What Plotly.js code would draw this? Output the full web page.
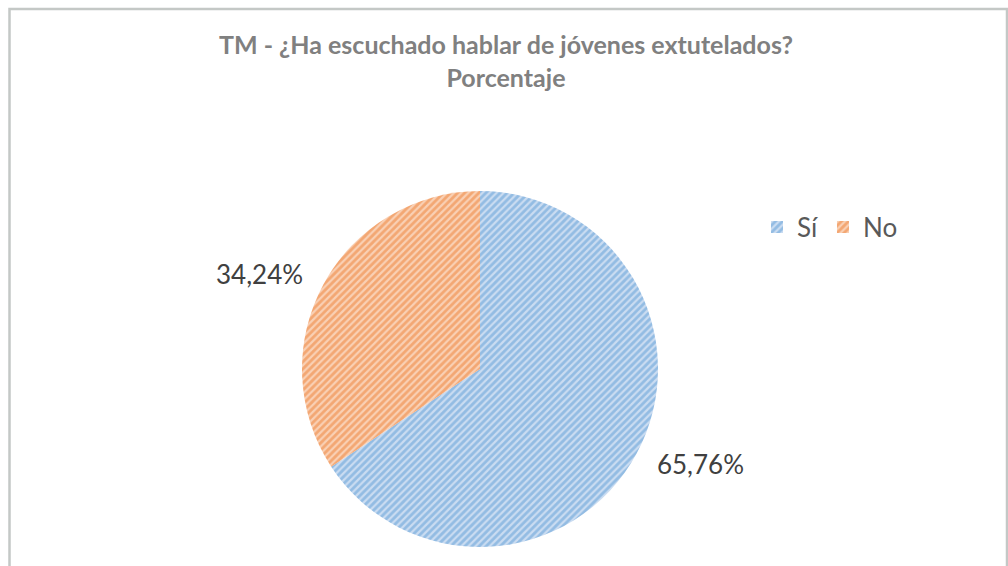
<!DOCTYPE html>
<html>
<head>
<meta charset="utf-8">
<script src="https://cdn.plot.ly/plotly-3.0.1.min.js"></script>
<style>html,body{margin:0;padding:0;background:#fff;}#chart{width:1008px;height:566px;}</style>
</head>
<body>
<div id="chart"></div>
<script>
const categories = ["Sí", "No"];
const values = [65.76, 34.24];
const colors = ["#5B9BD5", "#ED7D31"];
const lightColors = ["#cadcf1", "#f9d0b4"];
const titleText = "TM - ¿Ha escuchado hablar de jóvenes extutelados?<br>Porcentaje";

const W = 1008, H = 566;
const cx = 480, cy = 369, r = 178, rLabel = 192;

function dom(rad) {
  return {
    x: [(cx - rad) / W, (cx + rad) / W],
    y: [(H - cy - rad) / H, (H - cy + rad) / H]
  };
}

const piePattern = {
  shape: "/",
  fgcolor: colors,
  bgcolor: lightColors,
  size: 5,
  solidity: 0.55,
  fillmode: "overlay"
};

const trace = {
  type: "pie",
  labels: categories,
  values: values,
  sort: false,
  direction: "clockwise",
  rotation: 0,
  textinfo: "none",
  hoverinfo: "label+percent",
  marker: {
    colors: lightColors,
    line: {color: "rgba(0,0,0,0)", width: 0},
    pattern: piePattern
  },
  domain: dom(r)
};

// label carrier: same data, invisible, slightly larger radius so labels sit further out
const labelTrace = {
  type: "pie",
  labels: categories,
  values: values,
  sort: false,
  direction: "clockwise",
  rotation: 0,
  showlegend: false,
  textposition: "outside",
  texttemplate: "%{percent:.2%}",
  hoverinfo: "skip",
  outsidetextfont: {family: "Lato, 'Open Sans', sans-serif", size: 26, color: "#404040"},
  marker: {colors: ["rgba(0,0,0,0)", "rgba(0,0,0,0)"], line: {width: 0}},
  domain: dom(rLabel)
};

const layout = {
  width: W,
  height: H,
  margin: {l: 0, r: 0, t: 0, b: 0},
  paper_bgcolor: "#ffffff",
  separators: ",.",
  title: {
    text: titleText,
    x: 506 / W,
    xanchor: "center",
    y: 1 - 54 / H,
    yanchor: "top",
    font: {family: "Lato, 'Open Sans', sans-serif", size: 25, color: "#808080", weight: "bold"}
  },
  showlegend: true,
  legend: {
    orientation: "h",
    x: 757 / W,
    xanchor: "left",
    y: 1 - 227 / H,
    yanchor: "middle",
    font: {family: "Lato, 'Open Sans', sans-serif", size: 26, color: "#595959"},
    itemwidth: 30,
    traceorder: "normal"
  },
  shapes: [{
    type: "rect",
    xref: "paper", yref: "paper",
    x0: 9.5 / W, x1: 1007 / W,
    y0: -0.1, y1: 1 - 9 / H,
    line: {color: "#c4c8c6", width: 2.5},
    fillcolor: "rgba(0,0,0,0)",
    layer: "below"
  }]
};

Plotly.newPlot("chart", [trace, labelTrace], layout, {displayModeBar: false, staticPlot: true});
</script>
</body>
</html>
